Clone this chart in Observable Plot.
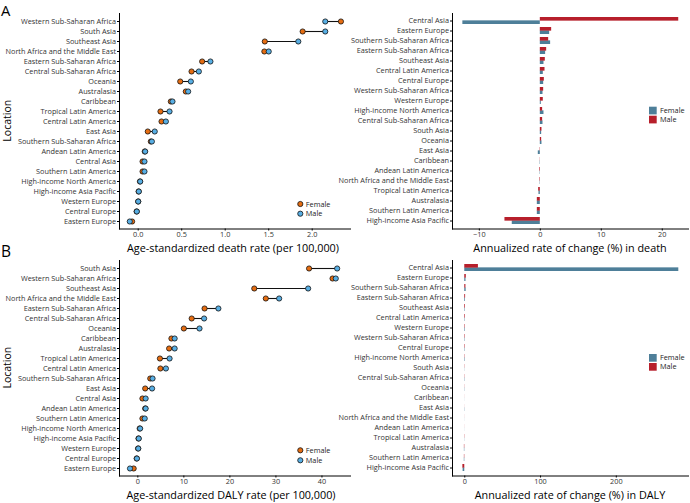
<!DOCTYPE html>
<html><head><meta charset="utf-8">
<script src="https://cdn.jsdelivr.net/npm/d3@7"></script>
<script src="https://cdn.jsdelivr.net/npm/@observablehq/plot@0.6"></script>
<style>
body{margin:0;background:#fff;font-family:"Open Sans",sans-serif;}
#wrap{position:relative;width:690px;height:503px;overflow:hidden;background:#fff}
.panel{position:absolute}
.panel svg{background:transparent;overflow:visible}
#overlay{position:absolute;left:0;top:0;pointer-events:none}
</style></head><body><div id="wrap"></div>
<script>
// ---------- DATA ----------
const deathLocations = ["Western Sub-Saharan Africa","South Asia","Southeast Asia","North Africa and the Middle East","Eastern Sub-Saharan Africa","Central Sub-Saharan Africa","Oceania","Australasia","Caribbean","Tropical Latin America","Central Latin America","East Asia","Southern Sub-Saharan Africa","Andean Latin America","Central Asia","Southern Latin America","High-income North America","High-income Asia Pacific","Western Europe","Central Europe","Eastern Europe"];
const deathFemale = [2.33,1.89,1.455,1.45,0.735,0.613,0.483,0.547,0.375,0.256,0.268,0.11,0.145,0.075,0.05,0.05,0.02,0.005,0.0,-0.018,-0.07];
const deathMale   = [2.15,2.15,1.84,1.50,0.83,0.697,0.605,0.574,0.394,0.36,0.318,0.19,0.157,0.08,0.072,0.072,0.023,0.007,0.0,-0.016,-0.097];

const dalyLocations = ["South Asia","Western Sub-Saharan Africa","Southeast Asia","North Africa and the Middle East","Eastern Sub-Saharan Africa","Central Sub-Saharan Africa","Oceania","Caribbean","Australasia","Tropical Latin America","Central Latin America","Southern Sub-Saharan Africa","East Asia","Central Asia","Andean Latin America","Southern Latin America","High-income North America","High-income Asia Pacific","Western Europe","Central Europe","Eastern Europe"];
const dalyFemale = [37.2,42.3,25.3,27.8,14.5,11.7,10.0,7.3,6.8,4.8,4.9,2.7,1.6,1.0,1.6,1.0,0.4,0.15,0.05,-0.25,-0.9];
const dalyMale   = [43.3,43.0,37.0,30.7,17.5,14.4,13.4,8.0,8.0,6.9,6.1,3.2,3.1,1.7,1.7,1.5,0.5,0.2,0.1,-0.2,-1.7];

const deathChangeLocations = ["Central Asia","Eastern Europe","Southern Sub-Saharan Africa","Eastern Sub-Saharan Africa","Southeast Asia","Central Latin America","Central Europe","Western Sub-Saharan Africa","Western Europe","High-income North America","Central Sub-Saharan Africa","South Asia","Oceania","East Asia","Caribbean","Andean Latin America","North Africa and the Middle East","Tropical Latin America","Australasia","Southern Latin America","High-income Asia Pacific"];
const deathChangeFemale = [-12.7,1.53,1.69,0.87,0.6,0.49,0.55,0.44,0.16,0.6,0.44,0.22,0.27,-0.33,-0.05,-0.05,-0.05,-0.22,-0.49,-0.49,-4.6];
const deathChangeMale   = [22.7,1.86,1.37,1.04,0.82,0.77,0.66,0.55,0.49,0.38,0.38,0.27,0.22,-0.05,0.03,-0.1,-0.08,-0.27,-0.49,-0.49,-5.8];

const dalyChangeLocations = ["Central Asia","Eastern Europe","Southern Sub-Saharan Africa","Eastern Sub-Saharan Africa","Southeast Asia","Central Latin America","Western Europe","Western Sub-Saharan Africa","Central Europe","High-income North America","South Asia","Central Sub-Saharan Africa","Oceania","Caribbean","East Asia","North Africa and the Middle East","Andean Latin America","Tropical Latin America","Australasia","Southern Latin America","High-income Asia Pacific"];
const dalyChangeFemale = [282.5,1.6,1.8,0.9,0.6,0.5,0.7,0.5,0.5,0.6,0.2,0.4,0.3,-0.1,-0.3,-0.1,-0.1,-0.2,-0.5,-0.6,-2.2];
const dalyChangeMale   = [18,2.0,1.5,1.1,0.9,0.8,0.6,0.6,0.6,0.4,0.3,0.3,0.2,0.1,-0.1,-0.1,-0.1,-0.3,-0.5,-0.5,-2.5];

const sexLabels = ["Female","Male"];
const deathTicks = [0,0.5,1,1.5,2];
const dalyTicks = [0,10,20,30,40];
const deathChangeTicks = [-10,0,10,20];
const dalyChangeTicks = [0,100,200];

// ---------- STYLE ----------
const C = {dotF:"#e56d12", dotM:"#58aee3", barF:"#4e7f99", barM:"#b71f2b", ink:"#111"};
const FS = 7.3;
const H = 256, MT = 13, MB = 27.5;
const baseStyle = {fontFamily:"'Open Sans',sans-serif", fontSize:FS+"px", color:"#333", background:"transparent", overflow:"visible"};

function dumbbell(locs, fem, mal, domain, ticks, fmt){
  const rows = locs.map((l,i)=>({loc:l,f:fem[i],m:mal[i]}));
  return Plot.plot({
    width:350, height:H, marginLeft:119, marginRight:0, marginTop:MT, marginBottom:MB,
    style:baseStyle,
    x:{domain, label:null},
    y:{type:"point", domain:locs, padding:0.6, label:null},
    marks:[
      Plot.frame({anchor:"left", stroke:"#000", strokeWidth:1}),
      Plot.frame({anchor:"bottom", stroke:"#000", strokeWidth:1}),
      Plot.axisX({ticks, tickFormat:fmt, tickSize:2, tickPadding:1, label:null, stroke:"#000"}),
      Plot.axisY({tickSize:2, tickPadding:1.5, label:null, stroke:"#000"}),
      Plot.link(rows,{x1:"f",x2:"m",y1:"loc",y2:"loc",stroke:C.ink,strokeWidth:1.1}),
      Plot.dot(rows,{x:"f",y:"loc",r:2.6,fill:C.dotF,stroke:C.ink,strokeWidth:0.8}),
      Plot.dot(rows,{x:"m",y:"loc",r:2.6,fill:C.dotM,stroke:C.ink,strokeWidth:0.8})
    ]
  });
}
function bars(locs, fem, mal, domain, ticks){
  const rows = locs.map((l,i)=>({loc:l,f:fem[i],m:mal[i]}));
  const step = (H-MT-MB)/21.2, half = step*0.66/2;
  return Plot.plot({
    width:360, height:H, marginLeft:122, marginRight:2, marginTop:MT, marginBottom:MB,
    style:baseStyle,
    x:{domain, label:null},
    y:{type:"band", domain:locs, paddingInner:0.34, paddingOuter:0.27, label:null},
    marks:[
      Plot.barX(rows,{x:"f",y:"loc",fill:C.barF,insetTop:half}),
      Plot.barX(rows,{x:"m",y:"loc",fill:C.barM,insetBottom:half}),
      Plot.frame({anchor:"left", stroke:"#000", strokeWidth:1}),
      Plot.frame({anchor:"bottom", stroke:"#000", strokeWidth:1}),
      Plot.axisX({ticks, tickSize:2, tickPadding:1, label:null, stroke:"#000"}),
      Plot.axisY({tickSize:2, tickPadding:1.5, label:null, stroke:"#000"})
    ]
  });
}
const wrap = document.getElementById("wrap");
function place(el, left, top){const d=document.createElement("div");d.className="panel";d.style.left=left+"px";d.style.top=top+"px";d.appendChild(el);wrap.appendChild(d);}
place(dumbbell(deathLocations, deathFemale, deathMale, [-0.215,2.44], deathTicks, d3.format(".1f")), 0, 0);
place(bars(deathChangeLocations, deathChangeFemale, deathChangeMale, [-14.4,24.3], deathChangeTicks), 330, 0);
place(dumbbell(dalyLocations, dalyFemale, dalyMale, [-3.98,46.2], dalyTicks, d3.format("d")), 0, 247);
place(bars(dalyChangeLocations, dalyChangeFemale, dalyChangeMale, [-16.2,295.3], dalyChangeTicks), 330, 247);

// ---------- overlay texts & legends ----------
const ov = d3.select(wrap).append("svg").attr("id","overlay").attr("width",690).attr("height",503)
  .style("font-family","'Open Sans',sans-serif");
const txt = (x,y,s,size,anchor="start",rot=0)=>{
  const t = ov.append("text").attr("x",x).attr("y",y).attr("font-size",size).attr("text-anchor",anchor).attr("fill","#000").text(s);
  if(rot) t.attr("transform",`rotate(${rot},${x},${y})`);
  return t;
};
txt(1,16,"A",14.8);
txt(1,257,"B",15.5);
txt(10.7,120.75,"Location",10.5,"middle",-90);
txt(10.7,367.7,"Location",10.5,"middle",-90);
txt(233,251.5,"Age-standardized death rate (per 100,000)",10.8,"middle");
txt(570,251.5,"Annualized rate of change (%) in death",10.8,"middle");
txt(231,498.5,"Age-standardized DALY rate (per 100,000)",10.8,"middle");
txt(570,498.5,"Annualized rate of change (%) in DALY",10.8,"middle");

function dotLegend(x,y0,gap){
  [[C.dotF,sexLabels[0]],[C.dotM,sexLabels[1]]].forEach(([c,l],i)=>{
    const y=y0+i*gap;
    ov.append("circle").attr("cx",x).attr("cy",y).attr("r",2.6).attr("fill",c).attr("stroke",C.ink).attr("stroke-width",0.8);
    txt(x+5.5,y+2.6,l,FS).attr("fill","#222");
  });
}
dotLegend(300.3,204,9.7);
dotLegend(300.3,450.3,10);
function barLegend(x,y0){
  [[C.barF,sexLabels[0]],[C.barM,sexLabels[1]]].forEach(([c,l],i)=>{
    const y=y0+i*9;
    ov.append("rect").attr("x",x).attr("y",y).attr("width",7.7).attr("height",7.7).attr("fill",c);
    txt(x+11,y+6.4,l,FS).attr("fill","#222");
  });
}
barLegend(649,106.7);
barLegend(649,354);
</script></body></html>
